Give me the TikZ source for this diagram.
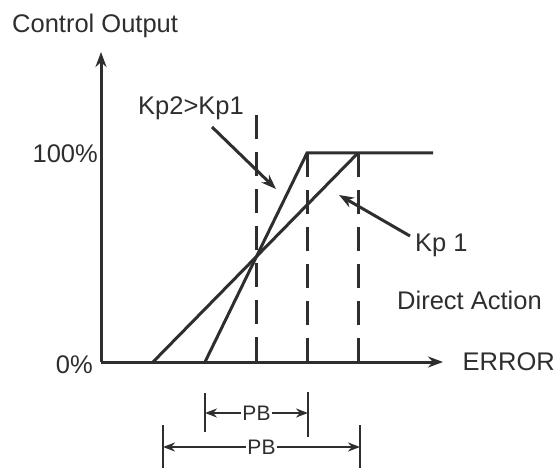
\documentclass[tikz,border=0pt]{standalone}
\usepackage{fontspec}
\setmainfont{Liberation Sans}
\usetikzlibrary{arrows.meta}
\definecolor{ink}{HTML}{2E2E2E}
\begin{document}
\begin{tikzpicture}[x=1pt,y=-1pt,
  every node/.style={inner sep=0pt,text=ink,font=\fontsize{25.5}{30}\selectfont},
  ln/.style={draw=ink,line width=3pt},
  dsh/.style={draw=ink,line width=3pt,dash pattern=on 24pt off 13pt},
  axis/.style={ln,-{Stealth[length=15pt,width=11pt]}},
  pointer/.style={ln,-{Stealth[length=15pt,width=11pt]}},
  dim/.style={draw=ink,line width=2.4pt,{Stealth[length=12pt,width=9pt]}-{Stealth[length=12pt,width=9pt]}},
  bar/.style={draw=ink,line width=2.6pt},
  pb/.style={font=\fontsize{21}{24}\selectfont,fill=white,inner xsep=1pt}]
\useasboundingbox (0,0) rectangle (557,468);
% axes
\coordinate (O) at (101,362);
\coordinate (Ytip) at (101,52);
\coordinate (Xtip) at (443,362);
\draw[axis] (O) -- (Ytip);
\draw[axis] (O) -- (Xtip);
% key points
\coordinate (k1s) at (153,362);
\coordinate (k1e) at (358,153);
\coordinate (k2s) at (205,362);
\coordinate (k2e) at (307,153);
\coordinate (flat) at (433,153);
\draw[ln] (k1s) -- (k1e);
\draw[ln,line join=miter] (k2s) -- (k2e) -- (flat);
% dashed verticals
\coordinate (d1t) at (256,115); \coordinate (d1b) at (256,362);
\coordinate (d2t) at (307,153); \coordinate (d2b) at (307,362);
\coordinate (d3t) at (358,153); \coordinate (d3b) at (358,362);
\draw[dsh] (d1t) -- (d1b);
\draw[dsh] (d2t) -- (d2b);
\draw[dsh] (d3t) -- (d3b);
% labels
\node[anchor=base west] (title) at (12,33) {Control Output};
\node[anchor=base east] (hundred) at (98,163) {100\%};
\node[anchor=base east] (zero) at (93,373) {0\%};
\node[anchor=base east] (err) at (555,370) {ERROR};
\node[anchor=base west] (kp2) at (138,115) {Kp2>Kp1};
\node[anchor=base west] (kp1) at (415,251) {Kp 1};
\node[anchor=base west] (da) at (397,309) {Direct Action};
% pointers
\coordinate (p2s) at (212,127); \coordinate (p2e) at (276,189);
\coordinate (p1s) at (410,236); \coordinate (p1e) at (339,195);
\draw[pointer] (p2s) -- (p2e);
\draw[pointer] (p1s) -- (p1e);
% PB dimensions
\coordinate (a1t) at (205,393); \coordinate (a1b) at (205,432);
\coordinate (a2t) at (308,392); \coordinate (a2b) at (308,437);
\draw[bar] (a1t) -- (a1b);
\draw[bar] (a2t) -- (a2b);
\coordinate (a1) at (205,413); \coordinate (a2) at (308,413);
\draw[dim] (a1) -- (a2) node[midway,pb] (pb1) {PB};
\coordinate (b1t) at (163,425); \coordinate (b1b) at (163,468);
\coordinate (b2t) at (360,425); \coordinate (b2b) at (360,468);
\draw[bar] (b1t) -- (b1b);
\draw[bar] (b2t) -- (b2b);
\coordinate (b1) at (163,447); \coordinate (b2) at (360,447);
\draw[dim] (b1) -- (b2) node[midway,pb] (pb2) {PB};
\end{tikzpicture}
\end{document}
